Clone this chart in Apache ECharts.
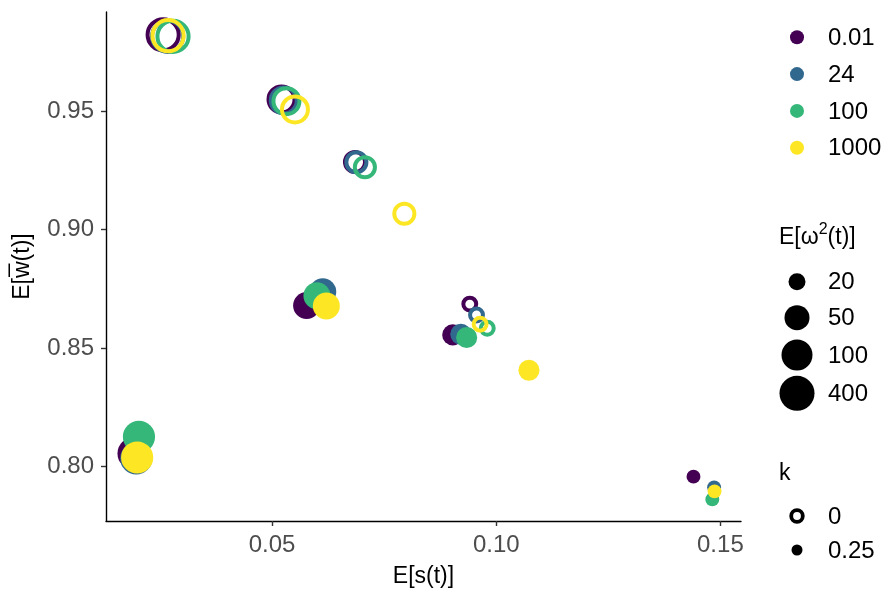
<!DOCTYPE html>
<html>
<head>
<meta charset="utf-8">
<script src="https://cdn.jsdelivr.net/npm/echarts@6/dist/echarts.min.js"></script>
<style>
  html, body { margin: 0; padding: 0; background: #fff; }
  #chart { width: 888px; height: 593px; }
</style>
</head>
<body>
<div id="chart"></div>
<script>
// Colour levels and their viridis colours
const colourLevels = ['0.01', '24', '100', '1000'];
const colourValues = ['#440154', '#31688E', '#35B779', '#FDE725'];

// k and E[omega^2(t)] for each of the eight points of a colour level
const kValues = [0, 0, 0, 0, 0.25, 0.25, 0.25, 0.25];
const omega2 = [150, 63, 32, 14, 150, 63, 32, 14];

// E[s(t)] per colour level
const s_001  = [0.0257, 0.0521, 0.0685, 0.0941, 0.0191, 0.0577, 0.0903, 0.1440];
const s_24   = [0.0267, 0.0526, 0.0688, 0.0956, 0.0197, 0.0613, 0.0921, 0.1486];
const s_100  = [0.0279, 0.0532, 0.0707, 0.0980, 0.0203, 0.0600, 0.0934, 0.1482];
const s_1000 = [0.0268, 0.0551, 0.0795, 0.0964, 0.0199, 0.0621, 0.1073, 0.1487];

// E[w̄(t)] per colour level
const w_001  = [0.9822, 0.9549, 0.9285, 0.8686, 0.8056, 0.8680, 0.8556, 0.7958];
const w_24   = [0.9815, 0.9545, 0.9284, 0.8640, 0.8035, 0.8738, 0.8559, 0.7913];
const w_100  = [0.9815, 0.9542, 0.9263, 0.8584, 0.8126, 0.8721, 0.8545, 0.7862];
const w_1000 = [0.9818, 0.9507, 0.9067, 0.8601, 0.8039, 0.8678, 0.8407, 0.7896];

// Axis ticks and legend breaks
const xTicks = [0.05, 0.10, 0.15];
const yTicks = [0.80, 0.85, 0.90, 0.95];
const sizeBreaks = [20, 50, 100, 400];
const kLevels = [0, 0.25];

const sVals = [s_001, s_24, s_100, s_1000];
const wVals = [w_001, w_24, w_100, w_1000];

const FONT = '"Liberation Sans", Arial, sans-serif';
const FS = 24;
const FS_TITLE = 23;

// Size scale: point diameter (px) at each size break, log-interpolated between
const sizeDiam = [17, 25, 31, 35];
function diameter(v) {
  const lv = Math.log10(v);
  const lb = sizeBreaks.map(Math.log10);
  let i = 0;
  if (lv >= lb[lb.length - 1]) i = lb.length - 2;
  else if (lv > lb[0]) { while (lv > lb[i + 1]) i++; }
  const t = (lv - lb[i]) / (lb[i + 1] - lb[i]);
  return sizeDiam[i] + t * (sizeDiam[i + 1] - sizeDiam[i]);
}

const RING = 4;

const series = colourLevels.map((lvl, ci) => ({
  name: lvl,
  type: 'scatter',
  symbol: 'circle',
  animation: false,
  emphasis: { disabled: true },
  itemStyle: { opacity: 1 },
  data: sVals[ci].map((s, j) => {
    const d = diameter(omega2[j]);
    const hollow = kValues[j] === 0;
    return {
      value: [s, wVals[ci][j], omega2[j], kValues[j]],
      symbolSize: hollow ? d - 1 : d,
      itemStyle: hollow
        ? { opacity: 1, color: 'rgba(0,0,0,0)', borderColor: colourValues[ci], borderWidth: RING }
        : { opacity: 1, color: colourValues[ci], borderWidth: 0 }
    };
  })
}));

// Legend blocks drawn on the right
const graphic = [];
const legX = 797, legTextX = 828;
colourLevels.forEach((lvl, i) => {
  const y = 37.3 + 36.8 * i;
  graphic.push({ type: 'circle', shape: { cx: legX, cy: y, r: 7 }, style: { fill: colourValues[i] } });
  graphic.push({ type: 'text', x: legTextX, y: y + 1, style: { text: lvl, font: FS + 'px ' + FONT, fill: '#000', verticalAlign: 'middle' } });
});

graphic.push({
  type: 'text', x: 779, y: 238,
  style: {
    text: '{n|E[ω}{s|2}{n|(t)]}',
    verticalAlign: 'middle',
    rich: {
      n: { fontSize: FS_TITLE, fontFamily: FONT, fill: '#000', lineHeight: 32 },
      s: { fontSize: 16, fontFamily: FONT, fill: '#000', lineHeight: 32, verticalAlign: 'top' }
    }
  }
});
const sizeY = [281.7, 317.7, 355, 393.3];
sizeBreaks.forEach((b, i) => {
  graphic.push({ type: 'circle', shape: { cx: legX, cy: sizeY[i], r: diameter(b) / 2 }, style: { fill: '#000' } });
  graphic.push({ type: 'text', x: legTextX, y: sizeY[i] + 1, style: { text: String(b), font: FS + 'px ' + FONT, fill: '#000', verticalAlign: 'middle' } });
});

graphic.push({ type: 'text', x: 779, y: 474, style: { text: 'k', font: FS_TITLE + 'px ' + FONT, fill: '#000', verticalAlign: 'middle' } });
const kY = [516, 550];
kLevels.forEach((k, i) => {
  if (k === 0) {
    graphic.push({ type: 'circle', shape: { cx: legX, cy: kY[i], r: 5.8 }, style: { fill: 'none', stroke: '#000', lineWidth: 3.8 } });
  } else {
    graphic.push({ type: 'circle', shape: { cx: legX, cy: kY[i], r: 5.5 }, style: { fill: '#000' } });
  }
  graphic.push({ type: 'text', x: legTextX, y: kY[i] + 1, style: { text: String(k), font: FS + 'px ' + FONT, fill: '#000', verticalAlign: 'middle' } });
});

const chart = echarts.init(document.getElementById('chart'), null, { renderer: 'canvas' });
chart.setOption({
  animation: false,
  backgroundColor: '#fff',
  grid: { left: 106, right: 147, top: 12, bottom: 69, containLabel: false },
  xAxis: {
    type: 'value',
    min: 0.01295, max: 0.1546,
    name: 'E[s(t)]',
    nameLocation: 'middle',
    nameGap: 44,
    nameTextStyle: { fontSize: FS_TITLE, fontFamily: FONT, color: '#000' },
    axisLine: { show: true, onZero: false, lineStyle: { color: '#000', width: 1.4 } },
    axisTick: { show: true, customValues: xTicks, length: 5, lineStyle: { color: '#333', width: 1.4 } },
    axisLabel: { customValues: xTicks, formatter: v => v.toFixed(2), fontSize: FS, fontFamily: FONT, color: '#4D4D4D', margin: 12 },
    splitLine: { show: false }
  },
  yAxis: {
    type: 'value',
    min: 0.7771, max: 0.9918,
    name: 'E[w\u0305(t)]',
    nameLocation: 'middle',
    nameGap: 72,
    nameRotate: 90,
    nameTextStyle: { fontSize: FS_TITLE, fontFamily: FONT, color: '#000' },
    axisLine: { show: true, onZero: false, lineStyle: { color: '#000', width: 1.4 } },
    axisTick: { show: true, customValues: yTicks, length: 5, lineStyle: { color: '#333', width: 1.4 } },
    axisLabel: { customValues: yTicks, formatter: v => v.toFixed(2), fontSize: FS, fontFamily: FONT, color: '#4D4D4D', margin: 12 },
    splitLine: { show: false }
  },
  tooltip: { show: false },
  series: series,
  graphic: graphic
});
</script>
</body>
</html>
